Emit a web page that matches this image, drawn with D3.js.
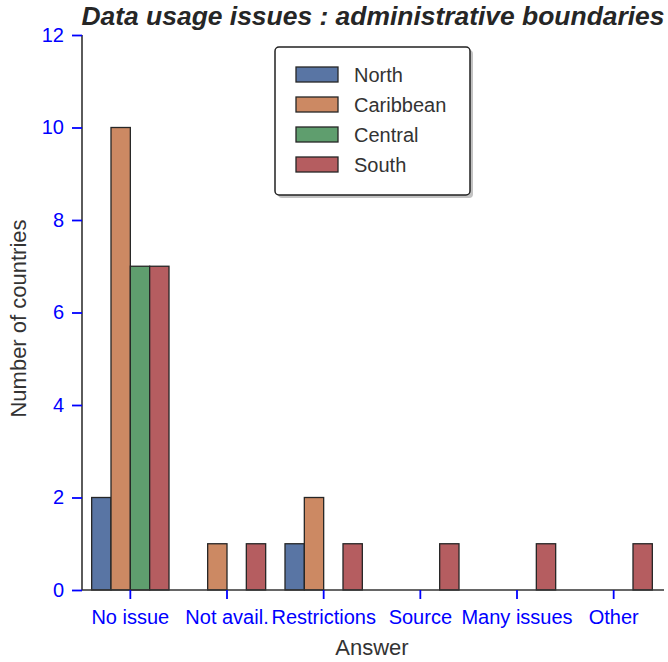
<!DOCTYPE html>
<html><head><meta charset="utf-8">
<script src="https://cdn.jsdelivr.net/npm/d3@7"></script>
<style>body{margin:0;background:#fff;} svg{display:block;font-family:"Liberation Sans",Arial,sans-serif;}</style>
</head><body>
<script>
const categories = ["No issue","Not avail.","Restrictions","Source","Many issues","Other"];
const seriesNames = ["North","Caribbean","Central","South"];
const north     = [2,0,1,0,0,0];
const caribbean = [10,1,2,0,0,0];
const central   = [7,0,0,0,0,0];
const south     = [7,1,1,1,1,1];
const yTicks = [0,2,4,6,8,10,12];
const colors = ["#5975a4","#cc8963","#5f9e6e","#b55d60"];
const seriesValues = [north, caribbean, central, south];

const W = 668, H = 662;
const m = {left:82, right:6, top:35, bottom:72};
const svg = d3.select("body").append("svg").attr("width",W).attr("height",H);

const x = d3.scaleBand().domain(categories).range([m.left, W-m.right]).paddingInner(0).paddingOuter(0);
const inner = d3.scaleBand().domain(seriesNames).range([0, x.bandwidth()*0.8]);
const y = d3.scaleLinear().domain([0,12]).range([H-m.bottom, m.top]);

// bars
seriesNames.forEach((s,si)=>{
  svg.append("g").selectAll("rect").data(categories.map((c,i)=>({c, v:seriesValues[si][i]})).filter(d=>d.v>0))
    .join("rect")
    .attr("x", d=>x(d.c)+x.bandwidth()*0.1+inner(s))
    .attr("y", d=>y(d.v))
    .attr("width", inner.bandwidth())
    .attr("height", d=>y(0)-y(d.v))
    .attr("fill", colors[si])
    .attr("stroke","#262626").attr("stroke-width",1.3);
});

// axes
const yAxis = svg.append("g").attr("transform",`translate(${m.left},0)`)
  .call(d3.axisLeft(y).tickValues(yTicks).tickSize(10).tickPadding(8).tickFormat(d3.format("d")));
const xAxis = svg.append("g").attr("transform",`translate(0,${H-m.bottom})`)
  .call(d3.axisBottom(x).tickSize(9).tickPadding(11));
[yAxis,xAxis].forEach(a=>{
  a.select(".domain").attr("stroke","#333").attr("stroke-width",1.6);
  a.selectAll(".tick line").attr("stroke","#0000ff").attr("stroke-width",1.8);
  a.selectAll(".tick text").attr("fill","#0000ff").style("font-size","20px").style("font-family","'Liberation Sans',Arial,sans-serif");
});
yAxis.select(".domain").attr("d",`M0,${y(12)}V${y(0)}`);
xAxis.select(".domain").attr("d",`M${m.left},0H${W-4}`);

// titles
svg.append("text").attr("x",(m.left+W-m.right)/2+1).attr("y",25).attr("text-anchor","middle")
  .style("font-size","26px").style("font-weight","bold").style("font-style","italic").attr("fill","#262626")
  .attr("textLength",583).attr("lengthAdjust","spacingAndGlyphs")
  .text("Data usage issues : administrative boundaries");
svg.append("text").attr("x",372).attr("y",655).attr("text-anchor","middle")
  .style("font-size","22px").attr("fill","#333").text("Answer");
svg.append("text").attr("transform",`translate(26,${(y(0)+y(12))/2+6}) rotate(-90)`).attr("text-anchor","middle")
  .style("font-size","22px").attr("fill","#333").text("Number of countries");

// legend
const lg = svg.append("g").attr("transform","translate(275,47)");
lg.append("rect").attr("x",3).attr("y",3).attr("width",195).attr("height",148).attr("rx",4).attr("fill","#999").attr("opacity",0.6);
lg.append("rect").attr("x",0).attr("y",0).attr("width",195).attr("height",148).attr("rx",4).attr("fill","#fff").attr("stroke","#222").attr("stroke-width",1.5);
seriesNames.forEach((s,i)=>{
  const gy = 20 + i*30;
  lg.append("rect").attr("x",21).attr("y",gy).attr("width",42).attr("height",15).attr("fill",colors[i]).attr("stroke","#262626").attr("stroke-width",1.3);
  lg.append("text").attr("x",79).attr("y",gy+15).style("font-size","20px").attr("fill","#333").text(s);
});
</script>
</body></html>
